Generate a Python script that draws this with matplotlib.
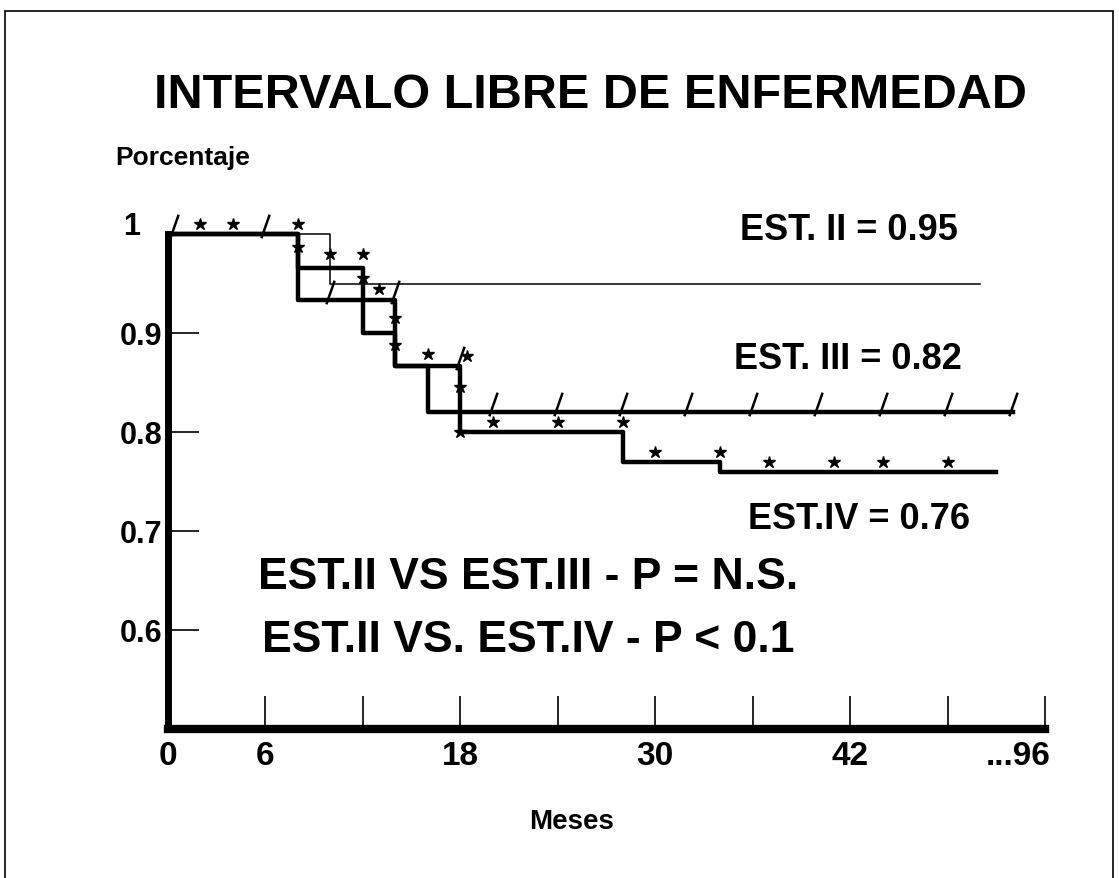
import matplotlib.pyplot as plt
from matplotlib import transforms
from matplotlib.patches import Rectangle

# Kaplan-Meier style step curves (months, proportion free of disease)
months_est2 = [0, 10, 50]
surv_est2 = [1.0, 0.95, 0.95]

months_est3 = [0, 8, 14, 16, 52]
surv_est3 = [1.0, 0.933, 0.867, 0.82, 0.82]

months_est4 = [0, 8, 12, 14, 18, 28, 34, 51]
surv_est4 = [1.0, 0.966, 0.9, 0.867, 0.8, 0.77, 0.76, 0.76]

# censored cases
star_months = [2, 4, 8, 8, 10, 12, 12, 13, 14, 14, 16, 18.4, 18, 18,
               20, 24, 28, 30, 34, 37, 41, 44, 48]
star_values = [1.01, 1.01, 1.01, 0.987, 0.98, 0.98, 0.956, 0.944, 0.915, 0.888,
               0.879, 0.877, 0.845, 0.80, 0.81, 0.81, 0.81, 0.78, 0.78,
               0.77, 0.77, 0.77, 0.77]
slash_months = [0.4, 6, 10, 14, 18, 20, 24, 28, 32, 36, 40, 44, 48, 52]
slash_levels = [1.0, 1.0, 0.933, 0.933, 0.867, 0.82, 0.82, 0.82, 0.82,
                0.82, 0.82, 0.82, 0.82, 0.82]

x_ticks = [0, 6, 12, 18, 24, 30, 36, 42, 48, 54]
x_labels = ["0", "6", "", "18", "", "30", "", "42", "", "...96"]
y_ticks = [0.6, 0.7, 0.8, 0.9]
y_labels = ["0.6", "0.7", "0.8", "0.9"]

final_labels = [("EST. II", surv_est2[-1]), ("EST. III", surv_est3[-1]),
                ("EST.IV", surv_est4[-1])]

plt.rcParams["font.family"] = "Liberation Sans"
plt.rcParams["font.weight"] = "bold"

W, H = 1119, 879
fig = plt.figure(figsize=(W / 100, H / 100), dpi=100)


def px(x, y):
    return x / W, 1 - y / H


ax = fig.add_axes([168 / W, 1 - 730 / H, (1045 - 168) / W, (730 - 185.5) / H])
ax.set_xlim(0, 54)
ax.set_ylim(0.5, 1.05)

ax.step(months_est2, surv_est2, where="post", color="black", lw=1.1)
ax.step(months_est3, surv_est3, where="post", color="black", lw=3.2)
ax.step(months_est4, surv_est4, where="post", color="black", lw=3.2)

ax.plot(star_months, star_values, ls="none", marker="*", ms=9,
        color="black", clip_on=False)
lifted = transforms.offset_copy(ax.transData, fig=fig, y=8, units="dots")
ax.plot(slash_months, slash_levels, ls="none", marker=[(-0.35, -1), (0.35, 1)],
        ms=17, mew=1.8, color="black", transform=lifted, clip_on=False)

for side in ("top", "right"):
    ax.spines[side].set_visible(False)
ax.spines["left"].set_linewidth(5)
ax.spines["left"].set_bounds(0.5, 1.0)
ax.spines["bottom"].set_linewidth(6)

ax.set_xticks(x_ticks)
ax.set_xticklabels(x_labels)
ax.set_yticks(y_ticks)
ax.set_yticklabels(y_labels)
ax.tick_params(axis="x", direction="in", length=24, width=1.2, pad=8,
               labelsize=24)
ax.tick_params(axis="y", direction="in", length=22, width=1.2, pad=4,
               labelsize=22)
last = ax.get_xticklabels()[-1]
last.set_ha("right")
last.set_transform(last.get_transform() +
                   transforms.ScaledTranslation(6 / 100, 0, fig.dpi_scale_trans))

ax.annotate("1", xy=(0, 1.0), xytext=(-28, 8), textcoords="offset pixels",
            ha="right", va="center", fontsize=22)

fig.text(*px(590, 95), "INTERVALO LIBRE DE ENFERMEDAD", ha="center",
         va="center", fontsize=35)
fig.text(*px(115, 158), "Porcentaje", ha="left", va="center", fontsize=19)
fig.text(*px(572, 822), "Meses", ha="center", va="center", fontsize=20)

for (name, val), (xr, yc) in zip(final_labels, [(958, 230), (962, 360), (970, 520)]):
    fig.text(*px(xr, yc), f"{name} = {val:.2f}", ha="right", va="center",
             fontsize=26)

fig.text(*px(258, 578), "EST.II VS EST.III - P = N.S.", ha="left",
         va="center", fontsize=32)
fig.text(*px(262, 641), "EST.II VS. EST.IV - P < 0.1", ha="left",
         va="center", fontsize=32)

fig.patches.append(Rectangle((5 / W, -0.01), (1113 - 5) / W, 1 - 12 / H + 0.01,
                             transform=fig.transFigure, fill=False, lw=1.2,
                             color="black"))

fig.savefig("out.png", dpi=100)
